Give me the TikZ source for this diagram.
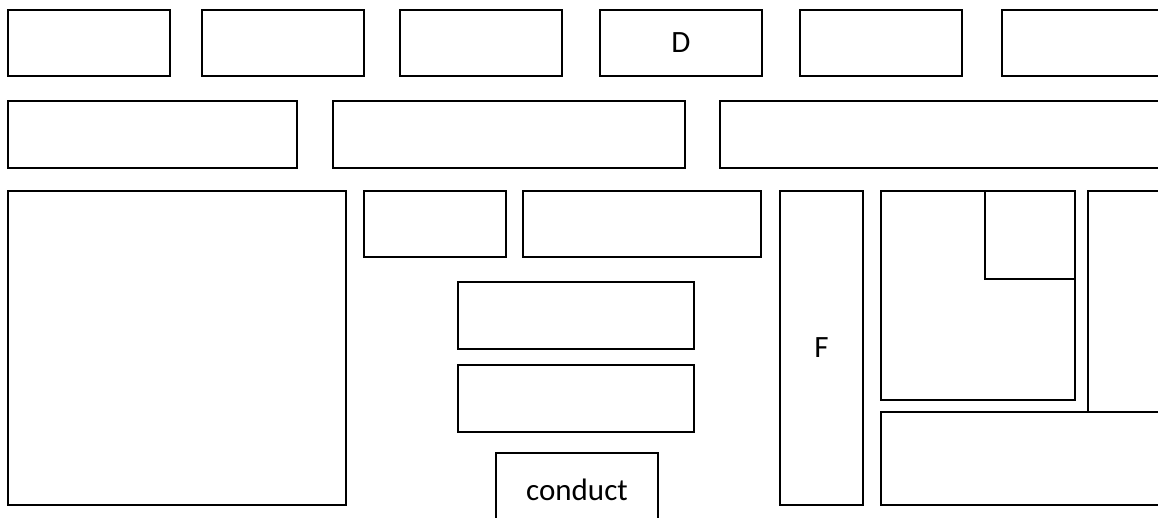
\documentclass[tikz,border=0pt]{standalone}
\usepackage{fontspec}
\setmainfont{Carlito}
\begin{document}
\begin{tikzpicture}[x=1pt,y=-1pt,
  box/.style={draw=black, line width=1.3pt, inner sep=0pt, outer sep=0pt, anchor=north west, fill=white},
  lbl/.style={font=\fontsize{31}{36}\selectfont}]
\useasboundingbox (0,0) rectangle (1158,517);
\fill[white] (0,0) rectangle (1158,517);
\clip (0,0) rectangle (1158,517);
% helper: \bx{name}{x1}{y1}{x2}{y2}{text}
\newcommand{\bx}[6]{\node[box, minimum width={(#4-#2)*1pt}, minimum height={(#5-#3)*1pt}, lbl] (#1) at (#2,#3) {#6};}
% row 1
\bx{a1}{8}{10}{170}{76}{}
\bx{a2}{202}{10}{364}{76}{}
\bx{a3}{400}{10}{562}{76}{}
\bx{a4}{600}{10}{762}{76}{D}
\bx{a5}{800}{10}{962}{76}{}
\bx{a6}{1002}{10}{1175}{76}{}
% row 2
\bx{b1}{8}{101}{297}{168}{}
\bx{b2}{333}{101}{685}{168}{}
\bx{b3}{720}{101}{1175}{168}{}
% row 3
\bx{c1}{8}{191}{346}{505}{}
\bx{c2}{364}{191}{506}{257}{}
\bx{c3}{523}{191}{761}{257}{}
\bx{c4}{458}{282}{694}{349}{}
\bx{c5}{458}{365}{694}{432}{}
\node[box, minimum width=162pt, minimum height=90pt] (c6) at (496,453) {};
\node[lbl] (t6) at (577,490) {conduct};
\bx{f}{780}{191}{863}{505}{F}
\bx{g1}{881}{191}{1075}{400}{}
\bx{g2}{985}{191}{1075}{279}{}
\bx{g3}{1088}{191}{1175}{412}{}
\bx{g4}{881}{412}{1175}{505}{}
\end{tikzpicture}
\end{document}
